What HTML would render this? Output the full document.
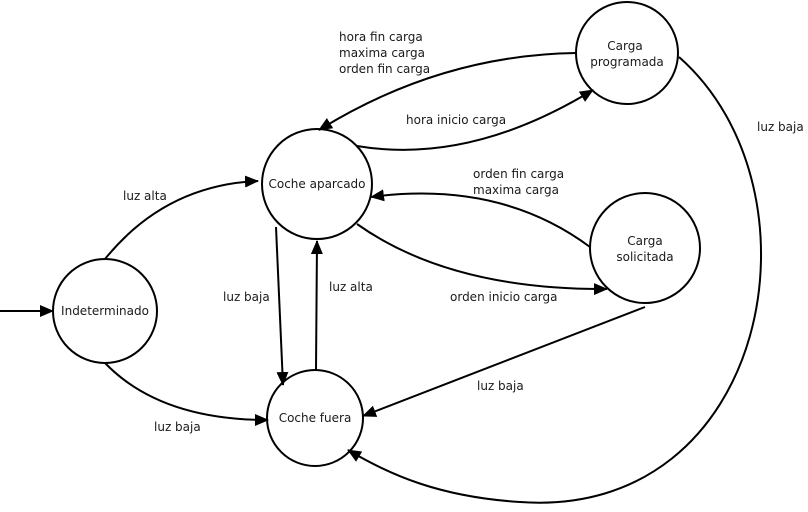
<!DOCTYPE html>
<html><head><meta charset="utf-8"><style>
html,body{margin:0;padding:0;background:#fff;}
svg text{font-family:"DejaVu Sans","Liberation Sans",sans-serif;font-size:12px;fill:#1a1a1a;}
</style></head><body>
<svg width="808" height="507" viewBox="0 0 808 507" xmlns="http://www.w3.org/2000/svg">
<defs><marker id="a" markerWidth="14" markerHeight="12" refX="13" refY="6" orient="auto" markerUnits="userSpaceOnUse"><path d="M0,0 L14,6 L0,12 z" fill="#000"/></marker></defs>
<g fill="#fff" stroke="#000" stroke-width="2">
<circle cx="105" cy="311" r="52"/>
<circle cx="317" cy="184" r="55"/>
<circle cx="315" cy="418" r="48"/>
<circle cx="627" cy="53" r="51"/>
<circle cx="645" cy="248" r="55"/>
</g>
<g fill="none" stroke="#000" stroke-width="2" marker-end="url(#a)">
<path d="M0,311 L53,311"/>
<path d="M105,259 Q165,185 258,181"/>
<path d="M105,363 Q160,420 268,420"/>
<path d="M276,227 L283,385"/>
<path d="M316,370 L317,241"/>
<path d="M576,53 Q440,55 319,130"/>
<path d="M357,146 Q470,165 593,90"/>
<path d="M590,247 Q500,180 371,197"/>
<path d="M357,224 Q450,290 607,289"/>
<path d="M645,307 L363,416"/>
<path d="M679,57 C830,190 770,520 520,502 C440,497 390,475 348,450"/>
</g>
<g text-anchor="middle">
<text x="105" y="315">Indeterminado</text>
<text x="317" y="188">Coche aparcado</text>
<text x="315" y="422">Coche fuera</text>
<text x="625" y="50">Carga</text>
<text x="627" y="66">programada</text>
<text x="645" y="245">Carga</text>
<text x="645" y="261">solicitada</text>
</g>
<text x="123" y="200">luz alta</text>
<text x="154" y="431">luz baja</text>
<text x="223" y="301">luz baja</text>
<text x="329" y="291">luz alta</text>
<text x="339" y="41">hora fin carga</text>
<text x="339" y="57">maxima carga</text>
<text x="339" y="73">orden fin carga</text>
<text x="406" y="124">hora inicio carga</text>
<text x="473" y="178">orden fin carga</text>
<text x="473" y="194">maxima carga</text>
<text x="450" y="301">orden inicio carga</text>
<text x="477" y="390">luz baja</text>
<text x="757" y="131">luz baja</text>
</svg>
</body></html>
